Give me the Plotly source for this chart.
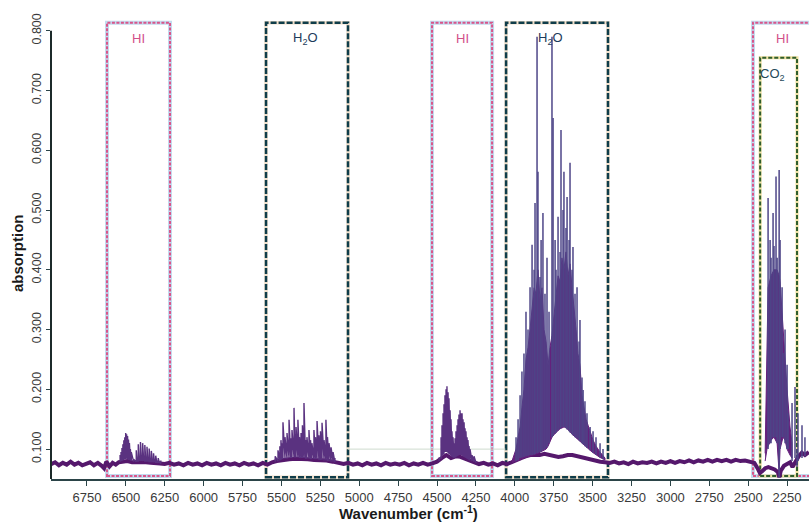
import plotly.graph_objects as go

# ---------------- data ----------------
# noisy baseline of the spectrum
base_wn = [6980, 6955, 6930, 6905, 6880, 6855, 6830, 6805, 6780, 6755, 6730, 6705, 6680, 6655, 6640, 6625,
           6605, 6585, 6565, 6545, 6520, 6490, 6460, 6430, 6400, 6370, 6340, 6310, 6280, 6250, 6220, 6190,
           6160, 6130, 6100, 6070, 6040, 6010, 5980, 5950, 5920, 5890, 5860, 5830, 5800, 5770, 5740, 5710,
           5680, 5650, 5620, 5590, 5560, 5530, 5490, 5450, 5410, 5370, 5330, 5290, 5250, 5210, 5170, 5130,
           5100, 5070, 5040, 5010, 4980, 4950, 4920, 4890, 4860, 4830, 4800, 4770, 4740, 4710, 4680, 4650,
           4620, 4590, 4560, 4530, 4500, 4470, 4440, 4410, 4380, 4350, 4320, 4290, 4260, 4230, 4200, 4170,
           4140, 4110, 4080, 4050, 4020, 3990, 3960, 3930, 3900, 3870, 3840, 3810, 3780, 3750, 3720, 3690,
           3660, 3630, 3600, 3570, 3540, 3510, 3480, 3450, 3420, 3390, 3360, 3330, 3300, 3270, 3240, 3210,
           3180, 3150, 3120, 3090, 3060, 3030, 3000, 2970, 2940, 2910, 2880, 2850, 2820, 2790, 2760, 2730,
           2700, 2670, 2640, 2610, 2580, 2550, 2520, 2490, 2460, 2440, 2425, 2410, 2390, 2370, 2350, 2330,
           2310, 2300, 2290, 2270, 2250, 2230, 2215, 2195, 2175, 2155, 2135, 2110]
base_abs = [0.075, 0.078, 0.073, 0.077, 0.074, 0.079, 0.074, 0.077, 0.073, 0.076, 0.078, 0.073, 0.077, 0.072, 0.068, 0.079,
            0.071, 0.077, 0.074, 0.078, 0.079, 0.080, 0.078, 0.078, 0.079, 0.078, 0.077, 0.077, 0.076, 0.075, 0.077, 0.074,
            0.076, 0.073, 0.077, 0.074, 0.076, 0.073, 0.077, 0.074, 0.076, 0.073, 0.077, 0.074, 0.076, 0.073, 0.077, 0.074,
            0.076, 0.073, 0.077, 0.074, 0.078, 0.080, 0.082, 0.083, 0.084, 0.084, 0.083, 0.082, 0.082, 0.081, 0.079, 0.077,
            0.075, 0.077, 0.074, 0.076, 0.073, 0.077, 0.074, 0.076, 0.073, 0.077, 0.074, 0.076, 0.074, 0.077, 0.073, 0.076,
            0.074, 0.077, 0.074, 0.076, 0.079, 0.085, 0.090, 0.085, 0.088, 0.087, 0.084, 0.080, 0.077, 0.075, 0.077, 0.074,
            0.076, 0.073, 0.077, 0.075, 0.078, 0.082, 0.085, 0.088, 0.090, 0.090, 0.090, 0.092, 0.090, 0.088, 0.087, 0.088,
            0.090, 0.090, 0.088, 0.086, 0.084, 0.082, 0.080, 0.079, 0.078, 0.077, 0.079, 0.076, 0.078, 0.075, 0.079, 0.076,
            0.078, 0.077, 0.079, 0.076, 0.079, 0.077, 0.080, 0.077, 0.080, 0.078, 0.081, 0.078, 0.081, 0.079, 0.082, 0.079,
            0.082, 0.080, 0.082, 0.079, 0.082, 0.080, 0.081, 0.079, 0.077, 0.068, 0.060, 0.063, 0.068, 0.070, 0.068, 0.066,
            0.062, 0.053, 0.064, 0.072, 0.075, 0.078, 0.070, 0.080, 0.088, 0.094, 0.090, 0.095]

# HI band 1 (~6500 cm-1): rotational lines (wavenumber, line foot, line top)
hi1_wn = [6537, 6531, 6525, 6519, 6513, 6507, 6501, 6495, 6489, 6483, 6477, 6471, 6465, 6450, 6433, 6427,
          6420, 6413, 6406, 6399, 6392, 6385, 6378, 6371, 6364, 6357, 6350, 6343, 6336, 6329, 6322, 6315,
          6308, 6300, 6292, 6284, 6275]
hi1_lo = [0.079, 0.080, 0.080, 0.081, 0.082, 0.083, 0.083, 0.084, 0.083, 0.082, 0.082, 0.081, 0.080, 0.079, 0.079, 0.079,
          0.079, 0.080, 0.080, 0.080, 0.080, 0.080, 0.079, 0.079, 0.079, 0.079, 0.078, 0.078, 0.078, 0.078, 0.078, 0.078,
          0.077, 0.077, 0.077, 0.077, 0.076]
hi1_hi = [0.090, 0.095, 0.102, 0.108, 0.115, 0.120, 0.127, 0.125, 0.122, 0.116, 0.110, 0.100, 0.095, 0.083, 0.098, 0.085,
          0.108, 0.088, 0.112, 0.088, 0.110, 0.087, 0.107, 0.086, 0.104, 0.085, 0.101, 0.084, 0.097, 0.083, 0.093, 0.082,
          0.089, 0.081, 0.085, 0.079, 0.081]

# H2O band 1 (~5300 cm-1)
h2o1_wn = [5540, 5522, 5510, 5503, 5496, 5490, 5477, 5464, 5451, 5440, 5432, 5419, 5412, 5406, 5394, 5384,
           5374, 5365, 5355, 5345, 5336, 5323, 5313, 5304, 5291, 5281, 5271, 5259, 5249, 5239, 5226, 5214,
           5204, 5194, 5181, 5168, 5156]
h2o1_lo = [0.079, 0.080, 0.081, 0.082, 0.083, 0.083, 0.084, 0.084, 0.085, 0.085, 0.085, 0.086, 0.086, 0.086, 0.086, 0.085,
           0.085, 0.085, 0.085, 0.084, 0.084, 0.084, 0.083, 0.083, 0.083, 0.083, 0.083, 0.082, 0.082, 0.082, 0.081, 0.081,
           0.080, 0.080, 0.079, 0.079, 0.078]
h2o1_hi = [0.088, 0.098, 0.105, 0.115, 0.110, 0.145, 0.120, 0.127, 0.149, 0.118, 0.132, 0.169, 0.125, 0.137, 0.149, 0.120,
           0.127, 0.140, 0.177, 0.115, 0.120, 0.132, 0.115, 0.110, 0.132, 0.120, 0.147, 0.123, 0.130, 0.144, 0.115, 0.149,
           0.120, 0.110, 0.103, 0.095, 0.085]

# HI band 2 (~4400 cm-1)
hi2_wn = [4487, 4474, 4468, 4461, 4455, 4449, 4442, 4436, 4429, 4423, 4416, 4410, 4404, 4397, 4391, 4384,
          4378, 4371, 4365, 4359, 4352, 4346, 4339, 4333, 4326, 4320, 4314, 4307, 4301, 4294, 4288, 4275,
          4262, 4249]
hi2_lo = [0.080, 0.085, 0.088, 0.090, 0.092, 0.095, 0.095, 0.095, 0.093, 0.092, 0.090, 0.088, 0.087, 0.086, 0.085, 0.086,
          0.087, 0.088, 0.089, 0.090, 0.090, 0.090, 0.089, 0.088, 0.087, 0.086, 0.085, 0.084, 0.083, 0.082, 0.081, 0.080,
          0.079, 0.077]
hi2_hi = [0.085, 0.120, 0.140, 0.160, 0.175, 0.190, 0.200, 0.205, 0.195, 0.185, 0.165, 0.150, 0.130, 0.120, 0.110, 0.118,
          0.130, 0.140, 0.150, 0.158, 0.165, 0.160, 0.160, 0.150, 0.145, 0.135, 0.130, 0.120, 0.115, 0.105, 0.100, 0.090,
          0.088, 0.080]

# H2O band 2 (~3700 cm-1): individual lines
h2o2_wn = [3992, 3979, 3966, 3954, 3941, 3928, 3915, 3902, 3889, 3876, 3870, 3857, 3851, 3838, 3831, 3819,
           3806, 3793, 3780, 3761, 3754, 3741, 3735, 3722, 3709, 3703, 3690, 3684, 3671, 3664, 3651, 3645,
           3632, 3626, 3613, 3600, 3587, 3581, 3568, 3561, 3549, 3536, 3516, 3497, 3478, 3452, 3433]
h2o2_lo = [0.080, 0.082, 0.085, 0.086, 0.087, 0.088, 0.089, 0.090, 0.090, 0.091, 0.092, 0.093, 0.094, 0.095, 0.096, 0.098,
           0.100, 0.103, 0.110, 0.120, 0.122, 0.126, 0.128, 0.131, 0.134, 0.136, 0.137, 0.137, 0.135, 0.133, 0.130, 0.128,
           0.125, 0.123, 0.120, 0.118, 0.115, 0.113, 0.110, 0.108, 0.105, 0.102, 0.098, 0.094, 0.090, 0.086, 0.083]
h2o2_hi = [0.120, 0.150, 0.190, 0.230, 0.260, 0.330, 0.300, 0.371, 0.442, 0.400, 0.512, 0.790, 0.564, 0.388, 0.450, 0.495,
           0.360, 0.420, 0.330, 0.790, 0.654, 0.450, 0.400, 0.489, 0.430, 0.634, 0.500, 0.564, 0.470, 0.522, 0.450, 0.579,
           0.400, 0.438, 0.360, 0.371, 0.280, 0.316, 0.220, 0.199, 0.180, 0.160, 0.137, 0.130, 0.120, 0.110, 0.100]
# H2O band 2: dense (unresolved) part, lower and upper edge
h2o2_env_wn = [4018, 4005, 3992, 3979, 3966, 3954, 3941, 3928, 3915, 3902, 3889, 3876, 3864, 3851, 3838, 3825,
               3812, 3799, 3786, 3774, 3761, 3748, 3735, 3722, 3709, 3697, 3684, 3671, 3658, 3645, 3632, 3619,
               3606, 3594, 3581, 3568, 3555, 3542, 3529, 3516, 3497, 3478, 3452, 3420]
h2o2_env_lo = [0.078, 0.079, 0.080, 0.081, 0.082, 0.084, 0.085, 0.086, 0.088, 0.089, 0.090, 0.091, 0.092, 0.093, 0.094, 0.096,
               0.098, 0.100, 0.105, 0.112, 0.120, 0.124, 0.128, 0.131, 0.134, 0.136, 0.137, 0.136, 0.133, 0.129, 0.125, 0.121,
               0.118, 0.115, 0.112, 0.110, 0.107, 0.104, 0.101, 0.098, 0.094, 0.090, 0.086, 0.082]
h2o2_env_hi = [0.080, 0.090, 0.100, 0.120, 0.137, 0.170, 0.200, 0.250, 0.270, 0.300, 0.340, 0.370, 0.360, 0.400, 0.350, 0.370,
               0.300, 0.280, 0.240, 0.270, 0.290, 0.320, 0.360, 0.390, 0.380, 0.420, 0.400, 0.430, 0.390, 0.410, 0.370, 0.340,
               0.300, 0.260, 0.240, 0.190, 0.170, 0.150, 0.140, 0.130, 0.115, 0.105, 0.095, 0.085]

# CO2 band (~2350 cm-1)
co2_wn = [2372, 2359, 2353, 2340, 2334, 2321, 2314, 2301, 2295, 2282, 2276, 2263, 2250, 2244, 2218, 2199,
          2186, 2180, 2154, 2135]
co2_lo = [0.100, 0.110, 0.110, 0.120, 0.120, 0.120, 0.110, 0.053, 0.100, 0.120, 0.120, 0.110, 0.100, 0.100, 0.080, 0.085,
          0.070, 0.080, 0.085, 0.088]
co2_hi = [0.520, 0.450, 0.420, 0.495, 0.440, 0.556, 0.420, 0.567, 0.450, 0.371, 0.261, 0.300, 0.241, 0.160, 0.177, 0.204,
          0.100, 0.160, 0.140, 0.120]
co2_env_wn = [2391, 2379, 2372, 2353, 2334, 2314, 2301, 2295, 2276, 2263, 2250, 2231, 2218]
co2_env_lo = [0.080, 0.100, 0.105, 0.115, 0.120, 0.110, 0.060, 0.100, 0.120, 0.115, 0.100, 0.090, 0.085]
co2_env_hi = [0.093, 0.250, 0.370, 0.390, 0.400, 0.400, 0.390, 0.380, 0.300, 0.240, 0.200, 0.137, 0.110]

# marked regions: label, kind, left edge, right edge (cm-1), top, bottom (absorption)
reg_label = ["HI", "H<sub>2</sub>O", "HI", "H<sub>2</sub>O", "HI", "CO<sub>2</sub>"]
reg_kind = ["HI", "H2O", "HI", "H2O", "HI", "CO2"]
reg_left = [6621, 5599, 4532, 4056, 2469, 2423]
reg_right = [6216, 5072, 4146, 3401, 2000, 2186]
reg_top = [0.8136, 0.8136, 0.8136, 0.8136, 0.8136, 0.755]
reg_bottom = [0.055, 0.053, 0.055, 0.053, 0.055, 0.055]
label_wn = [6418, 5345, 4339, 3770, 2282, 2346]
label_abs = [0.787, 0.787, 0.787, 0.787, 0.787, 0.726]

x_ticks = [6750, 6500, 6250, 6000, 5750, 5500, 5250, 5000, 4750, 4500, 4250, 4000,
           3750, 3500, 3250, 3000, 2750, 2500, 2250]
y_ticks = [0.1, 0.2, 0.3, 0.4, 0.5, 0.6, 0.7, 0.8]
y_ticktext = ["0.100", "0.200", "0.300", "0.400", "0.500", "0.600", "0.700", "0.800"]


# ---------------- helpers ----------------
def zigzag(wn, lo, hi):
    xs, ys = [], []
    for w, l, h in zip(wn, lo, hi):
        xs += [w, w]
        ys += [l, h]
    return xs, ys


def sticks(wn, lo, hi):
    xs, ys = [], []
    for w, l, h in zip(wn, lo, hi):
        xs += [w, w, None]
        ys += [l, h, None]
    return xs, ys


def band(wn, lo, hi):
    return list(wn) + list(wn)[::-1], list(hi) + list(lo)[::-1]


W, H = 809, 522
L, R, T, B = 51, 0, 20, 43
FONT = "Liberation Sans, Arial"
PURPLE = "#55186c"
FILL = "#64207c"
LINES = "#5a3280"
STICK = "#4e4688"

fig = go.Figure()

# marked region boxes
styles = {
    "HI": [dict(color="#c3dbef", width=4), dict(color="#d9558a", width=2, dash="3px,1.5px")],
    "H2O": [dict(color="#f1e0cc", width=3.5), dict(color="#0f3d4a", width=2.5, dash="6px,2px")],
    "CO2": [dict(color="#efe0a0", width=3), dict(color="#2f5e2c", width=2, dash="4px,2px")],
}
label_color = {"HI": "#d2508a", "H2O": "#1d3b5c", "CO2": "#24495a"}
for lab, kind, x0, x1, y1, y0, lw, la in zip(reg_label, reg_kind, reg_left, reg_right,
                                             reg_top, reg_bottom, label_wn, label_abs):
    for ln in styles[kind]:
        fig.add_shape(type="rect", xref="x", yref="y", x0=x0, x1=x1, y0=y0, y1=y1,
                      line=ln, fillcolor="rgba(0,0,0,0)", layer="below")
    fig.add_annotation(x=lw, y=la, xref="x", yref="y", text=lab, showarrow=False,
                       font=dict(family=FONT, size=13, color=label_color[kind]))

# faint reference line
fig.add_shape(type="line", xref="x", yref="y", x0=5072, x1=4060, y0=0.1, y1=0.1,
              line=dict(color="#cfdccf", width=1), layer="below")

# baseline
fig.add_trace(go.Scatter(x=base_wn, y=base_abs, mode="lines",
                         line=dict(color=PURPLE, width=4), hoverinfo="skip", showlegend=False))

# dense parts of the bands
for ew, el, eh in [(h2o2_env_wn, h2o2_env_lo, h2o2_env_hi), (co2_env_wn, co2_env_lo, co2_env_hi)]:
    bx, by = band(ew, el, eh)
    fig.add_trace(go.Scatter(x=bx, y=by, mode="lines", fill="toself", fillcolor=FILL,
                             line=dict(color=FILL, width=1), hoverinfo="skip", showlegend=False))

# small bands drawn as a dense zig-zag of lines
for sw, sl, sh in [(hi1_wn, hi1_lo, hi1_hi), (h2o1_wn, h2o1_lo, h2o1_hi), (hi2_wn, hi2_lo, hi2_hi)]:
    zx, zy = zigzag(sw, sl, sh)
    fig.add_trace(go.Scatter(x=zx, y=zy, mode="lines", line=dict(color=LINES, width=1.4),
                             hoverinfo="skip", showlegend=False))

# strong bands: individual lines
for sw, sl, sh in [(h2o2_wn, h2o2_lo, h2o2_hi), (co2_wn, co2_lo, co2_hi)]:
    sx, sy = sticks(sw, sl, sh)
    fig.add_trace(go.Scatter(x=sx, y=sy, mode="lines", line=dict(color=STICK, width=1.5),
                             connectgaps=False, hoverinfo="skip", showlegend=False))

# y axis line (ends at 0.800)
fig.add_shape(type="line", xref="paper", yref="y", x0=0, x1=0, y0=0.05, y1=0.8,
              line=dict(color="#1c2a2a", width=2))

# axis titles (placed by pixel position)
fig.add_annotation(text="<b>Wavenumber (cm<sup>-1</sup>)</b>", xref="paper", yref="paper",
                   x=(408 - L) / (W - L - R), y=(H - B - 512) / (H - T - B),
                   xanchor="center", yanchor="middle", showarrow=False,
                   font=dict(family=FONT, size=15, color="#1a1a1a"))
fig.add_annotation(text="<b>absorption</b>", xref="paper", yref="paper",
                   x=(17 - L) / (W - L - R), y=(H - B - 253) / (H - T - B),
                   xanchor="center", yanchor="middle", textangle=-90, showarrow=False,
                   font=dict(family=FONT, size=15, color="#1a1a1a"))

fig.update_layout(
    width=W, height=H,
    margin=dict(l=L, r=R, t=T, b=B, pad=0),
    paper_bgcolor="white", plot_bgcolor="white",
    showlegend=False,
    font=dict(family=FONT, color="#333333"),
    xaxis=dict(range=[6981, 2109], tickmode="array", tickvals=x_ticks,
               ticktext=[str(v) for v in x_ticks], showgrid=False, zeroline=False,
               showline=True, linecolor="#2b4448", linewidth=2,
               ticks="outside", ticklen=5, tickcolor="#2b4448", tickwidth=1,
               tickfont=dict(size=13, color="#3a3a3a")),
    yaxis=dict(range=[0.05, 0.818], tickmode="array", tickvals=y_ticks, ticktext=y_ticktext,
               showgrid=False, zeroline=False, showline=False,
               ticks="outside", ticklen=4, tickcolor="#2b4448", tickwidth=1,
               tickangle=-90, tickfont=dict(size=12.5, color="#3a3a3a")),
)

fig.write_html("out.html")
